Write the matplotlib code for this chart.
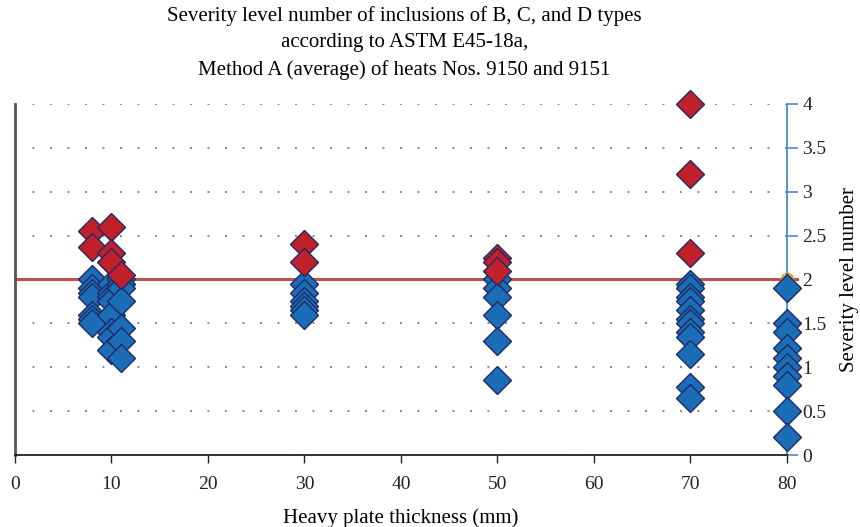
import matplotlib
matplotlib.use('Agg')
import matplotlib.pyplot as plt

plt.rcParams['font.family'] = ['Liberation Serif', 'DejaVu Serif']

# heats 9150/9151, values below the limit (blue) and above it (red)
blue_x = [8, 8, 8, 8, 8, 8, 8,
          10, 10, 10, 10, 10, 10, 10, 10,
          11, 11, 11, 11, 11, 11, 11,
          30, 30, 30, 30, 30, 30,
          50, 50, 50, 50, 50, 50,
          70, 70, 70, 70, 70, 70, 70, 70, 70, 70, 70, 70,
          80, 80, 80, 80, 80, 80, 80, 80, 80, 80]
blue_y = [2.0, 1.9, 1.85, 1.8, 1.6, 1.55, 1.5,
          1.95, 1.85, 1.8, 1.75, 1.6, 1.4, 1.35, 1.2,
          2.0, 1.95, 1.9, 1.75, 1.45, 1.3, 1.1,
          1.95, 1.85, 1.75, 1.7, 1.65, 1.6,
          2.0, 1.9, 1.8, 1.6, 1.3, 0.85,
          1.95, 1.9, 1.8, 1.75, 1.65, 1.55, 1.5, 1.4, 1.35, 1.15, 0.78, 0.65,
          1.9, 1.5, 1.4, 1.22, 1.1, 1.0, 0.9, 0.8, 0.5, 0.2]

red_x = [8, 8, 10, 10, 10, 11, 30, 30, 50, 50, 50, 70, 70, 70]
red_y = [2.55, 2.37, 2.6, 2.3, 2.2, 2.05, 2.4, 2.2, 2.25, 2.2, 2.1, 4.0, 3.2, 2.3]

limit_x = [0, 81]
limit_y = [2, 2]

fig = plt.figure(figsize=(8.6, 5.27), dpi=100)
ax = fig.add_axes([0.0174, 0.1366, 0.8977, 0.6661])

ax.plot(limit_x, limit_y, color='#c0504d', lw=2.2, zorder=2, clip_on=False)
ax.plot([80], [2], marker='o', ms=9, mfc='#f5b342', mec='#f0a020', zorder=2.5, clip_on=False)

ax.plot(blue_x, blue_y, 'D', ms=14, mfc='#1b6db6', mec='#1f2a66', mew=1.0,
        ls='none', zorder=3, clip_on=False)
ax.plot(red_x, red_y, 'D', ms=14, mfc='#c0202a', mec='#1f2a66', mew=1.0,
        ls='none', zorder=4, clip_on=False)

ax.set_xlim(0, 80)
ax.set_ylim(0, 4)

ax.yaxis.tick_right()
ax.yaxis.set_label_position('right')
ax.set_yticks([0, 0.5, 1, 1.5, 2, 2.5, 3, 3.5, 4])
ax.set_yticklabels(['0', '0.5', '1', '1.5', '2', '2.5', '3', '3.5', '4'])
ax.set_xticks(range(0, 81, 10))
ax.tick_params(axis='y', colors='#4a8cc7', labelcolor='#222222', length=8, width=1.2,
               labelsize=14, pad=3)
ax.tick_params(axis='x', colors='#222222', length=6, width=1.0, labelsize=14, pad=9)

ax.grid(axis='y', ls=(0, (1, 8)), color='#888888', lw=1.4)
ax.set_axisbelow(True)

ax.spines['top'].set_visible(False)
ax.spines['left'].set_color('#555555')
ax.spines['left'].set_linewidth(2)
ax.spines['right'].set_color('#4a8cc7')
ax.spines['right'].set_linewidth(1.3)
ax.spines['bottom'].set_color('#222222')
ax.spines['bottom'].set_linewidth(1.3)

ax.set_xlabel('Heavy plate thickness (mm)', fontsize=15, labelpad=11)
ax.set_ylabel('Severity level number', fontsize=15, labelpad=10)

fig.text(0.47, 0.988, 'Severity level number of inclusions of B, C, and D types\n'
         'according to ASTM E45-18a,\n'
         'Method A (average) of heats Nos. 9150 and 9151',
         ha='center', va='top', fontsize=15, linespacing=1.5)

fig.savefig('out.png', dpi=100)
